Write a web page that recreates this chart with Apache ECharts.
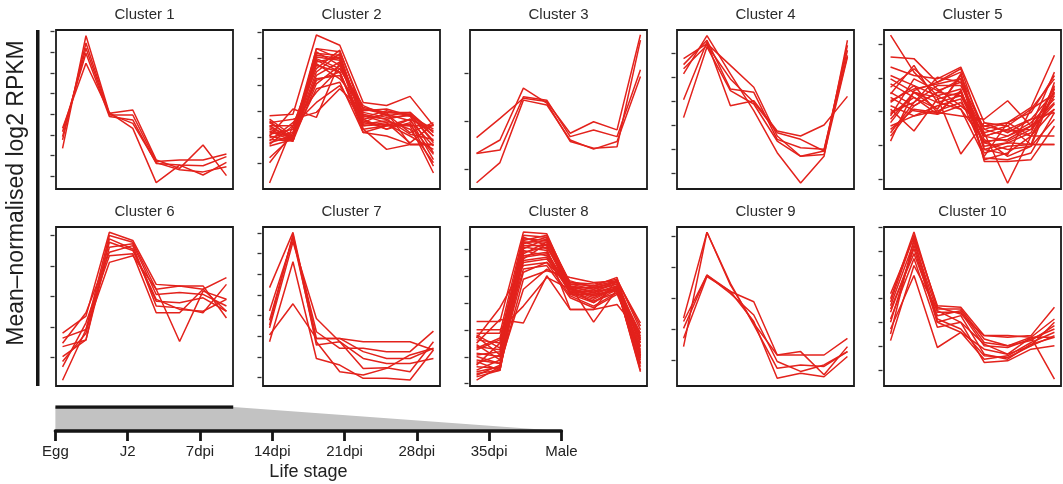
<!DOCTYPE html>
<html>
<head>
<meta charset="utf-8">
<script src="https://cdn.jsdelivr.net/npm/echarts@6/dist/echarts.min.js"></script>
<style>
  html, body { margin: 0; padding: 0; background: #fff; }
  #chart { width: 1063px; height: 484px; }
</style>
</head>
<body>
<div id="chart"></div>
<script>
const stages = ['Egg', 'J2', '7dpi', '14dpi', '21dpi', '28dpi', '35dpi', 'Male'];
const clusterNames = ['Cluster 1', 'Cluster 2', 'Cluster 3', 'Cluster 4', 'Cluster 5',
  'Cluster 6', 'Cluster 7', 'Cluster 8', 'Cluster 9', 'Cluster 10'];

// one row per gene, one value per life stage
const cluster1 = [
  [1.34, 6.80, 3.04, 3.20, 0.78, 0.37, 1.50, 0.02],
  [1.91, 6.20, 2.96, 2.96, 0.70, 0.78, 0.78, 1.07],
  [2.15, 5.95, 2.88, 2.72, 0.61, 0.53, 0.50, 0.94],
  [2.31, 5.47, 3.07, 2.31, -0.32, 0.53, 0.05, 0.66],
  [1.75, 6.45, 3.00, 2.55, 0.65, 0.30, 0.20, 0.45]
];
const cluster2 = [
  [1.82, 1.88, 4.90, 4.51, 2.33, 2.21, 2.56, 1.44],
  [1.44, 0.92, 4.38, 4.26, 2.08, 1.95, 1.95, 1.05],
  [1.18, 1.05, 4.13, 4.00, 1.82, 1.69, 1.88, 0.79],
  [0.92, 0.86, 4.26, 3.74, 1.95, 1.76, 1.82, 0.41],
  [0.67, 0.92, 3.87, 4.06, 1.56, 1.44, 1.69, 0.15],
  [-0.74, 1.44, 3.74, 3.49, 1.44, 1.56, 1.44, -0.36],
  [1.56, 1.69, 1.95, 2.85, 2.01, 2.08, 1.82, 1.31],
  [1.31, 0.92, 3.36, 3.87, 1.69, 1.88, 1.18, 1.56],
  [1.05, 2.08, 1.76, 3.87, 1.31, 0.54, 0.73, 0.73],
  [1.69, 1.05, 4.00, 3.62, 2.21, 1.82, 1.95, 1.18],
  [0.79, 1.05, 3.49, 4.19, 1.44, 1.50, 1.05, 0.54],
  [0.22, 1.05, 3.23, 3.36, 1.63, 1.31, 1.56, -0.10],
  [1.37, 0.99, 2.85, 3.10, 1.18, 1.44, 1.44, 1.44],
  [1.12, 1.31, 3.62, 4.32, 1.88, 1.69, 1.12, 0.92],
  [0.86, 1.56, 2.72, 3.62, 2.08, 1.88, 1.63, 0.67],
  [1.63, 0.86, 4.06, 3.94, 1.82, 1.56, 0.79, 1.50],
  [0.03, 1.18, 4.19, 4.13, 1.50, 1.63, 1.31, 0.03],
  [1.24, 0.86, 3.04, 3.74, 1.76, 2.01, 1.82, 1.05],
  [1.44, 1.44, 3.81, 3.23, 2.14, 1.95, 0.73, 0.73],
  [1.05, 0.86, 3.94, 3.49, 1.31, 1.44, 1.50, 0.35],
  [0.73, 1.44, 2.33, 2.97, 1.56, 1.95, 1.88, 0.86],
  [0.99, 1.18, 4.38, 4.00, 1.69, 1.31, 1.69, 1.24],
  [1.56, 0.99, 3.17, 3.49, 1.18, 1.05, 0.73, 0.73]
];
const cluster3 = [
  [0.66, 1.06, 1.48, 1.41, 0.75, 0.99, 0.82, 2.80],
  [0.33, 0.61, 1.69, 1.38, 0.58, 0.44, 0.47, 2.69],
  [0.33, 0.40, 1.51, 1.44, 0.68, 0.82, 0.68, 2.07],
  [-0.28, 0.14, 1.44, 1.34, 0.61, 0.42, 0.58, 1.93]
];
const cluster4 = [
  [4.79, 5.42, 4.51, 3.59, 1.55, 0.70, 0.92, 4.93],
  [4.54, 5.56, 3.52, 3.38, 1.41, 1.06, 0.99, 5.14],
  [4.15, 5.75, 4.15, 2.61, 0.85, -0.42, 0.70, 5.56],
  [3.07, 5.49, 2.82, 3.03, 1.76, 1.55, 2.01, 3.21],
  [2.32, 5.28, 3.45, 2.89, 1.34, 0.70, 0.77, 4.86],
  [4.37, 5.35, 3.94, 2.96, 1.69, 1.41, 0.92, 5.35]
];
const cluster5 = [
  [4.27, 3.17, 2.47, 2.07, 0.67, 1.67, 1.97, 3.07],
  [3.62, 3.57, 2.87, 3.27, 1.27, 1.47, 1.77, 2.57],
  [3.32, 3.07, 2.97, 3.32, 1.67, 1.57, 2.07, 2.97],
  [2.97, 2.57, 2.27, 2.47, 1.07, 1.27, 1.57, 2.27],
  [2.82, 2.42, 2.07, 3.12, 0.87, 1.07, 1.37, 2.77],
  [2.57, 2.17, 2.57, 2.97, 0.57, 0.77, 1.27, 2.57],
  [2.27, 2.77, 1.97, 1.87, 1.77, 2.32, 1.57, 2.07],
  [2.07, 1.42, 2.37, 2.57, 1.27, 1.47, 1.27, 2.07],
  [1.87, 2.97, 2.62, 2.87, 1.47, 1.67, 2.12, 3.67],
  [1.67, 2.57, 2.42, 0.74, 1.67, 1.37, 1.77, 1.97],
  [1.47, 2.07, 1.97, 2.57, 1.07, 0.87, 0.97, 1.77],
  [1.12, 2.62, 2.87, 3.17, 0.52, 0.52, 0.57, 1.57],
  [1.37, 2.27, 2.77, 2.77, 1.37, -0.13, 1.27, 2.47],
  [2.42, 2.02, 1.92, 2.62, 0.97, 1.07, 1.02, 1.02],
  [2.72, 3.27, 2.67, 2.17, 1.57, 1.42, 1.47, 2.22],
  [1.97, 2.27, 3.02, 2.87, 1.17, 0.67, 0.97, 2.67],
  [2.17, 1.87, 2.17, 2.37, 0.77, 0.97, 1.02, 2.87],
  [1.77, 2.57, 2.07, 3.07, 1.47, 1.27, 1.67, 2.37],
  [3.07, 2.77, 2.47, 2.67, 0.62, 0.57, 0.77, 1.97],
  [2.52, 3.37, 2.27, 2.07, 1.12, 1.17, 1.57, 3.17],
  [1.57, 1.87, 2.02, 2.27, 1.37, 1.57, 1.02, 1.02],
  [2.32, 2.67, 2.82, 2.97, 0.87, 0.72, 2.07, 2.52],
  [1.27, 2.17, 2.57, 2.47, 1.27, 1.12, 1.47, 2.72],
  [1.92, 2.42, 1.92, 2.17, 1.57, 1.67, 1.27, 1.27]
];
const cluster6 = [
  [0.80, 1.36, 4.11, 3.84, 2.40, 2.35, 2.35, 1.30],
  [0.64, 0.92, 4.00, 3.78, 2.24, 2.35, 2.24, 1.52],
  [0.36, 0.58, 3.89, 3.56, 1.91, 1.58, 1.52, 1.91],
  [0.03, 0.58, 3.62, 3.73, 2.07, 2.13, 2.07, 1.69],
  [-0.30, 1.14, 3.34, 3.40, 1.47, 1.47, 2.24, 2.62],
  [-0.74, 0.92, 3.12, 3.34, 2.24, 0.53, 2.18, 1.91],
  [0.47, 1.47, 3.45, 3.67, 1.69, 1.63, 1.47, 2.40],
  [-0.13, 0.80, 3.78, 3.51, 1.85, 1.80, 1.96, 1.52]
];
const cluster7 = [
  [4.35, 7.02, 1.90, 1.90, 1.74, 1.74, 1.74, 1.34],
  [2.77, 6.81, 2.22, 1.42, 1.42, 1.26, 1.26, 2.25],
  [2.41, 6.57, 2.86, 1.74, 0.45, 0.48, 0.29, 1.74],
  [1.74, 5.60, 0.93, 0.61, -0.03, -0.03, -0.11, 1.34],
  [2.06, 3.57, 1.90, 1.90, 1.26, 0.93, 0.93, 1.42],
  [2.54, 6.92, 1.58, 1.74, 0.93, 0.69, 0.69, 0.93],
  [3.22, 6.73, 1.74, 0.29, 0.13, 0.45, 1.10, 1.42]
];
const cluster8 = [
  [2.32, 2.32, 5.65, 5.59, 3.64, 3.52, 3.83, 2.26],
  [1.88, 1.88, 5.53, 5.46, 3.77, 3.71, 3.89, 2.01],
  [1.63, 1.51, 5.40, 5.34, 3.58, 3.58, 3.77, 1.76],
  [1.38, 1.26, 5.28, 5.28, 3.71, 3.64, 3.83, 1.51],
  [1.13, 1.01, 5.15, 5.15, 3.52, 3.39, 3.64, 1.26],
  [0.88, 0.75, 5.03, 5.40, 3.39, 3.45, 3.71, 1.01],
  [0.63, 0.57, 4.90, 5.09, 3.58, 3.27, 3.52, 0.75],
  [0.38, 0.50, 4.77, 4.90, 3.45, 3.14, 3.58, 0.44],
  [0.13, 0.63, 4.65, 5.21, 3.33, 3.33, 3.45, 0.88],
  [1.70, 2.83, 4.40, 4.52, 3.27, 2.89, 3.39, 1.63],
  [2.01, 2.01, 2.89, 3.96, 3.52, 3.02, 3.64, 1.88],
  [1.51, 2.39, 2.26, 4.02, 2.76, 2.76, 3.89, 2.14],
  [0.50, 0.88, 4.15, 4.52, 3.64, 2.29, 3.52, 1.13],
  [1.01, 0.75, 3.52, 4.27, 3.83, 3.58, 3.77, 1.38],
  [1.26, 1.63, 4.59, 4.71, 3.39, 3.08, 3.39, 1.63],
  [0.25, 0.50, 5.21, 5.46, 3.52, 3.27, 3.58, 0.50],
  [0.75, 1.07, 5.34, 5.53, 3.71, 3.52, 3.71, 1.07],
  [1.82, 1.32, 5.46, 5.15, 3.64, 3.39, 3.83, 1.51],
  [1.45, 0.88, 4.96, 4.77, 3.52, 3.20, 3.58, 1.19],
  [0.31, 0.69, 5.09, 4.96, 3.33, 3.02, 3.52, 0.63],
  [1.07, 1.19, 4.27, 4.40, 3.20, 2.83, 3.33, 1.38],
  [0.69, 1.51, 4.84, 5.28, 3.77, 3.64, 3.96, 0.94],
  [1.76, 1.07, 4.52, 4.65, 3.45, 3.33, 3.64, 1.70],
  [0.44, 0.63, 3.89, 4.21, 3.96, 3.77, 3.83, 0.75],
  [1.32, 1.70, 5.28, 5.03, 2.76, 2.76, 2.95, 1.88],
  [0.82, 0.50, 4.71, 4.84, 3.58, 3.45, 3.52, 1.01]
];
const cluster9 = [
  [1.37, 4.14, 2.44, 1.20, 0.18, 0.18, 0.18, 0.72],
  [0.45, 4.14, 2.49, 1.15, -0.25, -0.14, -0.19, 0.29],
  [1.04, 2.76, 2.23, 1.90, 0.18, 0.29, -0.46, 0.45],
  [0.72, 2.71, 2.23, 1.26, -0.57, -0.41, -0.52, 0.13],
  [1.26, 2.76, 2.17, 1.47, -0.03, -0.35, -0.14, 0.29]
];
const cluster10 = [
  [3.20, 5.59, 2.70, 2.63, 1.44, 1.37, 1.44, 2.63],
  [2.99, 5.80, 2.56, 2.56, 1.30, 1.01, 1.37, 2.14],
  [2.70, 5.38, 2.42, 2.42, 1.01, 0.94, 1.30, 1.72],
  [2.42, 5.10, 2.00, 2.28, 0.66, 0.45, 1.08, 1.37],
  [2.14, 4.68, 1.79, 2.00, 0.31, 0.38, 0.87, 1.01],
  [1.72, 3.97, 0.94, 1.58, 0.87, 0.66, 1.37, -0.39],
  [1.23, 4.39, 2.49, 2.00, 1.08, 0.66, 1.01, 1.44],
  [2.85, 5.66, 2.63, 2.35, 1.44, 1.44, 1.37, 1.37],
  [2.00, 5.24, 2.14, 1.72, 0.59, 0.52, 1.01, 2.00],
  [2.56, 4.89, 2.28, 2.49, 1.15, 1.01, 1.23, 1.86],
  [1.51, 5.52, 2.00, 1.58, 0.45, 0.59, 1.15, 1.58]
];

// unlabelled y ticks of each panel
const cluster1Ticks = [0, 1, 2, 3, 4, 5, 6, 7];
const cluster2Ticks = [0, 1, 2, 3, 4, 5];
const cluster3Ticks = [0, 1, 2];
const cluster4Ticks = [0, 1, 2, 3, 4, 5];
const cluster5Ticks = [0, 1, 2, 3, 4];
const cluster6Ticks = [0, 1, 2, 3, 4];
const cluster7Ticks = [0, 1, 2, 3, 4, 5, 6, 7];
const cluster8Ticks = [0, 1, 2, 3, 4, 5];
const cluster9Ticks = [0, 1, 2, 3, 4];
const cluster10Ticks = [0, 1, 2, 3, 4, 5, 6];

// life stage schematic: sampled span (Egg..7dpi) fading towards Male
const wedgeX = [0, 2.46, 7];
const wedgeY = [1, 1, 0];

const clusters = [cluster1, cluster2, cluster3, cluster4, cluster5,
  cluster6, cluster7, cluster8, cluster9, cluster10];
const clusterTicks = [cluster1Ticks, cluster2Ticks, cluster3Ticks, cluster4Ticks, cluster5Ticks,
  cluster6Ticks, cluster7Ticks, cluster8Ticks, cluster9Ticks, cluster10Ticks];

// layout
const colLeft = [56, 263, 470, 677, 884];
const rowTop = [30, 227];
const boxW = 177, boxH = 159;
const yRange = [[-0.63, 7.08], [-0.97, 5.09], [-0.41, 2.90], [-0.67, 5.99], [-0.30, 4.42],
  [-0.93, 4.28], [-0.40, 7.28], [-0.09, 5.84], [-0.82, 4.31], [-0.68, 6.01]];
const FONT = '"Liberation Sans", Arial, sans-serif';
const RED = '#e3221c';

const grid = [], xAxis = [], yAxis = [], series = [], graphic = [];

clusters.forEach((genes, k) => {
  const r = Math.floor(k / 5), c = k % 5;
  grid.push({
    left: colLeft[c], top: rowTop[r], width: boxW, height: boxH,
    show: true, borderColor: '#1a1a1a', borderWidth: 1.8, backgroundColor: 'transparent'
  });
  xAxis.push({ gridIndex: k, type: 'value', min: 0.72, max: 8.28, show: false });
  yAxis.push({
    gridIndex: k, type: 'value', min: yRange[k][0], max: yRange[k][1], offset: 1.5,
    axisLine: { show: false },
    axisTick: { show: true, length: 4, customValues: clusterTicks[k], lineStyle: { color: '#333', width: 1.3 } },
    axisLabel: { show: false },
    splitLine: { show: false }
  });
  genes.forEach(profile => {
    series.push({
      type: 'line', xAxisIndex: k, yAxisIndex: k,
      data: profile.map((v, i) => [i + 1, v]),
      symbol: 'none', silent: true,
      lineStyle: { color: RED, width: 1.5 }
    });
  });
  graphic.push({
    type: 'text', x: colLeft[c] + boxW / 2, y: rowTop[r] - 15,
    style: { text: clusterNames[k], align: 'center', verticalAlign: 'middle',
      font: '15px ' + FONT, fill: '#2b2b2b' }
  });
});

// life stage axis below the panels
const t = clusters.length;
grid.push({ left: 55.4, top: 407, width: 506, height: 24 });
xAxis.push({
  gridIndex: t, type: 'value', min: 0, max: 7, interval: 1, z: 5,
  axisLine: { lineStyle: { color: '#151515', width: 3.5 } },
  axisTick: { length: 10, lineStyle: { color: '#151515', width: 2.8 } },
  axisLabel: { formatter: v => stages[v], fontSize: 15, fontFamily: FONT, color: '#222', margin: 13 },
  splitLine: { show: false },
  name: 'Life stage', nameLocation: 'middle', nameGap: 32,
  nameTextStyle: { fontSize: 18, fontFamily: FONT, color: '#222' }
});
yAxis.push({ gridIndex: t, type: 'value', min: 0, max: 1, show: false });
series.push({
  type: 'line', xAxisIndex: t, yAxisIndex: t,
  data: wedgeX.map((x, i) => [x, wedgeY[i]]),
  symbol: 'none', silent: true,
  lineStyle: { width: 0 },
  areaStyle: { color: '#c2c2c2', opacity: 1 }
});
series.push({
  type: 'line', xAxisIndex: t, yAxisIndex: t,
  data: wedgeX.slice(0, 2).map((x, i) => [x, wedgeY[i]]),
  symbol: 'none', silent: true,
  lineStyle: { color: '#151515', width: 3.5 }
});

// shared y label and bar
graphic.push({
  type: 'rect', shape: { x: 36, y: 30, width: 3.5, height: 356 },
  style: { fill: '#151515' }
});
graphic.push({
  type: 'text', x: 17, y: 193, rotation: Math.PI / 2,
  style: { text: 'Mean\u2013normalised log2 RPKM', align: 'center', verticalAlign: 'middle',
    font: '23px ' + FONT, fill: '#1e1e1e' }
});

const chart = echarts.init(document.getElementById('chart'));
chart.setOption({
  animation: false,
  backgroundColor: '#fff',
  grid, xAxis, yAxis, series, graphic
});
</script>
</body>
</html>
